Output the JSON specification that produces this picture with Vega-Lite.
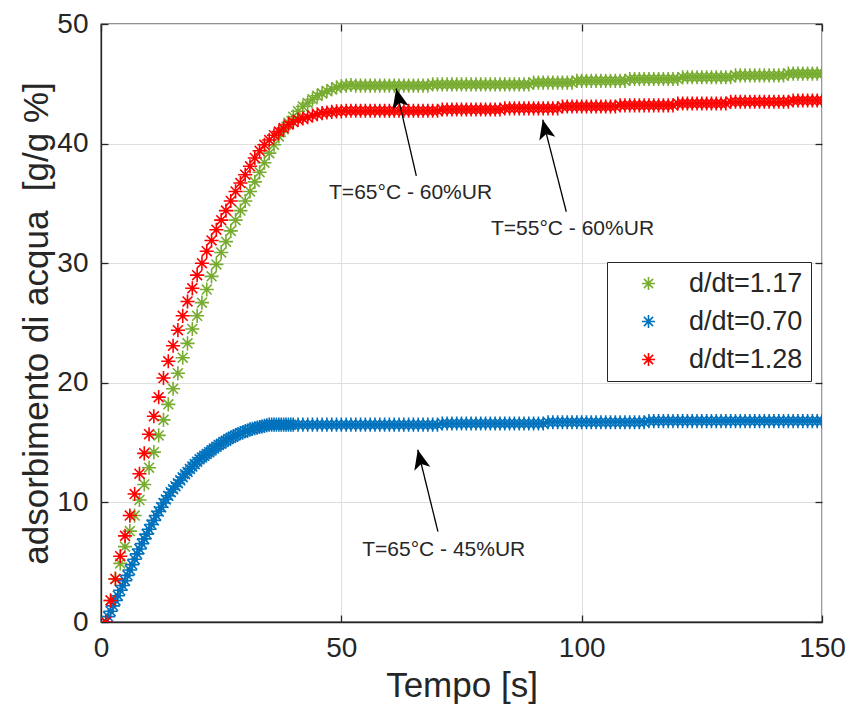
{
  "$schema": "https://vega.github.io/schema/vega-lite/v6.json",
  "autosize": "none",
  "padding": {"left": 101, "top": 24, "right": 28, "bottom": 100},
  "width": 721,
  "height": 598,
  "background": "white",
  "config": {
    "view": {"stroke": "#262626", "strokeWidth": 1.3},
    "font": "Liberation Sans",
    "axis": {
      "domainColor": "#262626", "domainWidth": 1.3,
      "tickColor": "#262626", "tickWidth": 1.3, "tickSize": -7,
      "labelFont": "Liberation Sans", "labelFontSize": 28, "labelColor": "#262626", "labelFlush": false,
      "titleFont": "Liberation Sans", "titleFontSize": 35, "titleFontWeight": "normal", "titleColor": "#262626",
      "gridColor": "#dedede", "gridWidth": 1
    }
  },
  "datasets": {
    "curves": [
      {"s":"d/dt=1.17","t":1,"v":0},{"s":"d/dt=1.17","t":2,"v":1.8},{"s":"d/dt=1.17","t":3,"v":3.6},{"s":"d/dt=1.17","t":4,"v":4.9},{"s":"d/dt=1.17","t":5,"v":6.3},{"s":"d/dt=1.17","t":6,"v":7.6},{"s":"d/dt=1.17","t":7,"v":8.9},{"s":"d/dt=1.17","t":8,"v":10.2},{"s":"d/dt=1.17","t":9,"v":11.5},{"s":"d/dt=1.17","t":10,"v":12.9},
      {"s":"d/dt=1.17","t":11,"v":14.2},{"s":"d/dt=1.17","t":12,"v":15.6},{"s":"d/dt=1.17","t":13,"v":16.9},{"s":"d/dt=1.17","t":14,"v":18.2},{"s":"d/dt=1.17","t":15,"v":19.5},{"s":"d/dt=1.17","t":16,"v":20.8},{"s":"d/dt=1.17","t":17,"v":22.1},{"s":"d/dt=1.17","t":18,"v":23.3},{"s":"d/dt=1.17","t":19,"v":24.5},{"s":"d/dt=1.17","t":20,"v":25.6},
      {"s":"d/dt=1.17","t":21,"v":26.7},{"s":"d/dt=1.17","t":22,"v":27.8},{"s":"d/dt=1.17","t":23,"v":28.9},{"s":"d/dt=1.17","t":24,"v":29.9},{"s":"d/dt=1.17","t":25,"v":30.9},{"s":"d/dt=1.17","t":26,"v":31.8},{"s":"d/dt=1.17","t":27,"v":32.7},{"s":"d/dt=1.17","t":28,"v":33.6},{"s":"d/dt=1.17","t":29,"v":34.4},{"s":"d/dt=1.17","t":30,"v":35.2},
      {"s":"d/dt=1.17","t":31,"v":36.0},{"s":"d/dt=1.17","t":32,"v":36.8},{"s":"d/dt=1.17","t":33,"v":37.6},{"s":"d/dt=1.17","t":34,"v":38.4},{"s":"d/dt=1.17","t":35,"v":39.2},{"s":"d/dt=1.17","t":36,"v":39.9},{"s":"d/dt=1.17","t":37,"v":40.6},{"s":"d/dt=1.17","t":38,"v":41.2},{"s":"d/dt=1.17","t":39,"v":41.75},{"s":"d/dt=1.17","t":40,"v":42.25},
      {"s":"d/dt=1.17","t":41,"v":42.7},{"s":"d/dt=1.17","t":42,"v":43.1},{"s":"d/dt=1.17","t":43,"v":43.4},{"s":"d/dt=1.17","t":44,"v":43.7},{"s":"d/dt=1.17","t":45,"v":44.0},{"s":"d/dt=1.17","t":46,"v":44.2},{"s":"d/dt=1.17","t":47,"v":44.4},{"s":"d/dt=1.17","t":48,"v":44.55},{"s":"d/dt=1.17","t":49,"v":44.7},{"s":"d/dt=1.17","t":50,"v":44.8},
      {"s":"d/dt=1.17","t":51,"v":44.85},{"s":"d/dt=1.17","t":52,"v":44.9},{"s":"d/dt=1.17","t":53,"v":44.85},{"s":"d/dt=1.17","t":54,"v":44.85},{"s":"d/dt=1.17","t":55,"v":44.85},{"s":"d/dt=1.17","t":56,"v":44.85},{"s":"d/dt=1.17","t":57,"v":44.85},{"s":"d/dt=1.17","t":58,"v":44.85},{"s":"d/dt=1.17","t":59,"v":44.85},{"s":"d/dt=1.17","t":60,"v":44.85},
      {"s":"d/dt=1.17","t":61,"v":44.85},{"s":"d/dt=1.17","t":62,"v":44.85},{"s":"d/dt=1.17","t":63,"v":44.85},{"s":"d/dt=1.17","t":64,"v":44.85},{"s":"d/dt=1.17","t":65,"v":44.85},{"s":"d/dt=1.17","t":66,"v":44.85},{"s":"d/dt=1.17","t":67,"v":44.85},{"s":"d/dt=1.17","t":68,"v":44.85},{"s":"d/dt=1.17","t":69,"v":44.95},{"s":"d/dt=1.17","t":70,"v":44.95},
      {"s":"d/dt=1.17","t":71,"v":44.95},{"s":"d/dt=1.17","t":72,"v":44.95},{"s":"d/dt=1.17","t":73,"v":44.95},{"s":"d/dt=1.17","t":74,"v":44.95},{"s":"d/dt=1.17","t":75,"v":44.95},{"s":"d/dt=1.17","t":76,"v":44.95},{"s":"d/dt=1.17","t":77,"v":44.95},{"s":"d/dt=1.17","t":78,"v":44.95},{"s":"d/dt=1.17","t":79,"v":44.95},{"s":"d/dt=1.17","t":80,"v":44.95},
      {"s":"d/dt=1.17","t":81,"v":44.95},{"s":"d/dt=1.17","t":82,"v":44.95},{"s":"d/dt=1.17","t":83,"v":44.95},{"s":"d/dt=1.17","t":84,"v":44.95},{"s":"d/dt=1.17","t":85,"v":44.95},{"s":"d/dt=1.17","t":86,"v":44.95},{"s":"d/dt=1.17","t":87,"v":44.95},{"s":"d/dt=1.17","t":88,"v":44.95},{"s":"d/dt=1.17","t":89,"v":44.95},{"s":"d/dt=1.17","t":90,"v":45.1},
      {"s":"d/dt=1.17","t":91,"v":45.1},{"s":"d/dt=1.17","t":92,"v":45.1},{"s":"d/dt=1.17","t":93,"v":45.1},{"s":"d/dt=1.17","t":94,"v":45.1},{"s":"d/dt=1.17","t":95,"v":45.1},{"s":"d/dt=1.17","t":96,"v":45.1},{"s":"d/dt=1.17","t":97,"v":45.1},{"s":"d/dt=1.17","t":98,"v":45.1},{"s":"d/dt=1.17","t":99,"v":45.25},{"s":"d/dt=1.17","t":100,"v":45.25},
      {"s":"d/dt=1.17","t":101,"v":45.25},{"s":"d/dt=1.17","t":102,"v":45.25},{"s":"d/dt=1.17","t":103,"v":45.25},{"s":"d/dt=1.17","t":104,"v":45.25},{"s":"d/dt=1.17","t":105,"v":45.25},{"s":"d/dt=1.17","t":106,"v":45.25},{"s":"d/dt=1.17","t":107,"v":45.25},{"s":"d/dt=1.17","t":108,"v":45.25},{"s":"d/dt=1.17","t":109,"v":45.25},{"s":"d/dt=1.17","t":110,"v":45.4},
      {"s":"d/dt=1.17","t":111,"v":45.4},{"s":"d/dt=1.17","t":112,"v":45.4},{"s":"d/dt=1.17","t":113,"v":45.4},{"s":"d/dt=1.17","t":114,"v":45.4},{"s":"d/dt=1.17","t":115,"v":45.4},{"s":"d/dt=1.17","t":116,"v":45.4},{"s":"d/dt=1.17","t":117,"v":45.4},{"s":"d/dt=1.17","t":118,"v":45.4},{"s":"d/dt=1.17","t":119,"v":45.4},{"s":"d/dt=1.17","t":120,"v":45.4},
      {"s":"d/dt=1.17","t":121,"v":45.55},{"s":"d/dt=1.17","t":122,"v":45.55},{"s":"d/dt=1.17","t":123,"v":45.55},{"s":"d/dt=1.17","t":124,"v":45.55},{"s":"d/dt=1.17","t":125,"v":45.55},{"s":"d/dt=1.17","t":126,"v":45.55},{"s":"d/dt=1.17","t":127,"v":45.55},{"s":"d/dt=1.17","t":128,"v":45.55},{"s":"d/dt=1.17","t":129,"v":45.55},{"s":"d/dt=1.17","t":130,"v":45.55},
      {"s":"d/dt=1.17","t":131,"v":45.55},{"s":"d/dt=1.17","t":132,"v":45.7},{"s":"d/dt=1.17","t":133,"v":45.7},{"s":"d/dt=1.17","t":134,"v":45.7},{"s":"d/dt=1.17","t":135,"v":45.7},{"s":"d/dt=1.17","t":136,"v":45.7},{"s":"d/dt=1.17","t":137,"v":45.7},{"s":"d/dt=1.17","t":138,"v":45.7},{"s":"d/dt=1.17","t":139,"v":45.7},{"s":"d/dt=1.17","t":140,"v":45.7},
      {"s":"d/dt=1.17","t":141,"v":45.7},{"s":"d/dt=1.17","t":142,"v":45.7},{"s":"d/dt=1.17","t":143,"v":45.85},{"s":"d/dt=1.17","t":144,"v":45.85},{"s":"d/dt=1.17","t":145,"v":45.85},{"s":"d/dt=1.17","t":146,"v":45.85},{"s":"d/dt=1.17","t":147,"v":45.85},{"s":"d/dt=1.17","t":148,"v":45.85},{"s":"d/dt=1.17","t":149,"v":45.85},{"s":"d/dt=1.17","t":150,"v":45.85},

      {"s":"d/dt=0.70","t":1,"v":0},{"s":"d/dt=0.70","t":1.5,"v":0.45},{"s":"d/dt=0.70","t":2,"v":0.9},{"s":"d/dt=0.70","t":2.5,"v":1.35},{"s":"d/dt=0.70","t":3,"v":1.8},{"s":"d/dt=0.70","t":3.5,"v":2.2},{"s":"d/dt=0.70","t":4,"v":2.65},{"s":"d/dt=0.70","t":4.5,"v":3.05},{"s":"d/dt=0.70","t":5,"v":3.45},{"s":"d/dt=0.70","t":5.5,"v":3.9},
      {"s":"d/dt=0.70","t":6,"v":4.35},{"s":"d/dt=0.70","t":6.5,"v":4.8},{"s":"d/dt=0.70","t":7,"v":5.25},{"s":"d/dt=0.70","t":7.5,"v":5.7},{"s":"d/dt=0.70","t":8,"v":6.1},{"s":"d/dt=0.70","t":8.5,"v":6.55},{"s":"d/dt=0.70","t":9,"v":6.95},{"s":"d/dt=0.70","t":9.5,"v":7.35},{"s":"d/dt=0.70","t":10,"v":7.75},{"s":"d/dt=0.70","t":10.5,"v":8.15},
      {"s":"d/dt=0.70","t":11,"v":8.5},{"s":"d/dt=0.70","t":11.5,"v":8.9},{"s":"d/dt=0.70","t":12,"v":9.25},{"s":"d/dt=0.70","t":12.5,"v":9.6},{"s":"d/dt=0.70","t":13,"v":9.95},{"s":"d/dt=0.70","t":13.5,"v":10.25},{"s":"d/dt=0.70","t":14,"v":10.55},{"s":"d/dt=0.70","t":14.5,"v":10.85},{"s":"d/dt=0.70","t":15,"v":11.1},{"s":"d/dt=0.70","t":15.5,"v":11.35},
      {"s":"d/dt=0.70","t":16,"v":11.6},{"s":"d/dt=0.70","t":16.5,"v":11.85},{"s":"d/dt=0.70","t":17,"v":12.1},{"s":"d/dt=0.70","t":17.5,"v":12.35},{"s":"d/dt=0.70","t":18,"v":12.55},{"s":"d/dt=0.70","t":18.5,"v":12.8},{"s":"d/dt=0.70","t":19,"v":13.0},{"s":"d/dt=0.70","t":19.5,"v":13.2},{"s":"d/dt=0.70","t":20,"v":13.4},{"s":"d/dt=0.70","t":20.5,"v":13.6},
      {"s":"d/dt=0.70","t":21,"v":13.75},{"s":"d/dt=0.70","t":21.5,"v":13.9},{"s":"d/dt=0.70","t":22,"v":14.05},{"s":"d/dt=0.70","t":22.5,"v":14.2},{"s":"d/dt=0.70","t":23,"v":14.35},{"s":"d/dt=0.70","t":23.5,"v":14.5},{"s":"d/dt=0.70","t":24,"v":14.65},{"s":"d/dt=0.70","t":24.5,"v":14.8},{"s":"d/dt=0.70","t":25,"v":14.9},{"s":"d/dt=0.70","t":25.5,"v":15.05},
      {"s":"d/dt=0.70","t":26,"v":15.15},{"s":"d/dt=0.70","t":26.5,"v":15.3},{"s":"d/dt=0.70","t":27,"v":15.4},{"s":"d/dt=0.70","t":27.5,"v":15.5},{"s":"d/dt=0.70","t":28,"v":15.6},{"s":"d/dt=0.70","t":28.5,"v":15.7},{"s":"d/dt=0.70","t":29,"v":15.8},{"s":"d/dt=0.70","t":29.5,"v":15.85},{"s":"d/dt=0.70","t":30,"v":15.95},{"s":"d/dt=0.70","t":30.5,"v":16.0},
      {"s":"d/dt=0.70","t":31,"v":16.1},{"s":"d/dt=0.70","t":31.5,"v":16.15},{"s":"d/dt=0.70","t":32,"v":16.2},{"s":"d/dt=0.70","t":32.5,"v":16.25},{"s":"d/dt=0.70","t":33,"v":16.3},{"s":"d/dt=0.70","t":33.5,"v":16.35},{"s":"d/dt=0.70","t":34,"v":16.4},{"s":"d/dt=0.70","t":34.5,"v":16.45},{"s":"d/dt=0.70","t":35,"v":16.5},{"s":"d/dt=0.70","t":35.5,"v":16.5},
      {"s":"d/dt=0.70","t":36,"v":16.5},{"s":"d/dt=0.70","t":36.5,"v":16.5},{"s":"d/dt=0.70","t":37,"v":16.5},{"s":"d/dt=0.70","t":37.5,"v":16.5},{"s":"d/dt=0.70","t":38,"v":16.5},{"s":"d/dt=0.70","t":38.5,"v":16.5},{"s":"d/dt=0.70","t":39,"v":16.5},{"s":"d/dt=0.70","t":39.5,"v":16.5},{"s":"d/dt=0.70","t":40,"v":16.5},
      {"s":"d/dt=0.70","t":41,"v":16.5},{"s":"d/dt=0.70","t":42,"v":16.5},{"s":"d/dt=0.70","t":43,"v":16.5},{"s":"d/dt=0.70","t":44,"v":16.5},{"s":"d/dt=0.70","t":45,"v":16.5},{"s":"d/dt=0.70","t":46,"v":16.5},{"s":"d/dt=0.70","t":47,"v":16.5},{"s":"d/dt=0.70","t":48,"v":16.5},{"s":"d/dt=0.70","t":49,"v":16.5},{"s":"d/dt=0.70","t":50,"v":16.5},
      {"s":"d/dt=0.70","t":51,"v":16.5},{"s":"d/dt=0.70","t":52,"v":16.5},{"s":"d/dt=0.70","t":53,"v":16.5},{"s":"d/dt=0.70","t":54,"v":16.5},{"s":"d/dt=0.70","t":55,"v":16.5},{"s":"d/dt=0.70","t":56,"v":16.5},{"s":"d/dt=0.70","t":57,"v":16.5},{"s":"d/dt=0.70","t":58,"v":16.5},{"s":"d/dt=0.70","t":59,"v":16.5},{"s":"d/dt=0.70","t":60,"v":16.5},
      {"s":"d/dt=0.70","t":61,"v":16.5},{"s":"d/dt=0.70","t":62,"v":16.5},{"s":"d/dt=0.70","t":63,"v":16.5},{"s":"d/dt=0.70","t":64,"v":16.5},{"s":"d/dt=0.70","t":65,"v":16.5},{"s":"d/dt=0.70","t":66,"v":16.5},{"s":"d/dt=0.70","t":67,"v":16.5},{"s":"d/dt=0.70","t":68,"v":16.5},{"s":"d/dt=0.70","t":69,"v":16.5},{"s":"d/dt=0.70","t":70,"v":16.5},
      {"s":"d/dt=0.70","t":71,"v":16.6},{"s":"d/dt=0.70","t":72,"v":16.6},{"s":"d/dt=0.70","t":73,"v":16.6},{"s":"d/dt=0.70","t":74,"v":16.6},{"s":"d/dt=0.70","t":75,"v":16.6},{"s":"d/dt=0.70","t":76,"v":16.6},{"s":"d/dt=0.70","t":77,"v":16.6},{"s":"d/dt=0.70","t":78,"v":16.6},{"s":"d/dt=0.70","t":79,"v":16.6},{"s":"d/dt=0.70","t":80,"v":16.6},
      {"s":"d/dt=0.70","t":81,"v":16.6},{"s":"d/dt=0.70","t":82,"v":16.6},{"s":"d/dt=0.70","t":83,"v":16.6},{"s":"d/dt=0.70","t":84,"v":16.6},{"s":"d/dt=0.70","t":85,"v":16.6},{"s":"d/dt=0.70","t":86,"v":16.6},{"s":"d/dt=0.70","t":87,"v":16.6},{"s":"d/dt=0.70","t":88,"v":16.6},{"s":"d/dt=0.70","t":89,"v":16.6},{"s":"d/dt=0.70","t":90,"v":16.6},
      {"s":"d/dt=0.70","t":91,"v":16.6},{"s":"d/dt=0.70","t":92,"v":16.6},{"s":"d/dt=0.70","t":93,"v":16.7},{"s":"d/dt=0.70","t":94,"v":16.7},{"s":"d/dt=0.70","t":95,"v":16.7},{"s":"d/dt=0.70","t":96,"v":16.7},{"s":"d/dt=0.70","t":97,"v":16.7},{"s":"d/dt=0.70","t":98,"v":16.7},{"s":"d/dt=0.70","t":99,"v":16.7},{"s":"d/dt=0.70","t":100,"v":16.7},
      {"s":"d/dt=0.70","t":101,"v":16.7},{"s":"d/dt=0.70","t":102,"v":16.7},{"s":"d/dt=0.70","t":103,"v":16.7},{"s":"d/dt=0.70","t":104,"v":16.7},{"s":"d/dt=0.70","t":105,"v":16.7},{"s":"d/dt=0.70","t":106,"v":16.7},{"s":"d/dt=0.70","t":107,"v":16.7},{"s":"d/dt=0.70","t":108,"v":16.7},{"s":"d/dt=0.70","t":109,"v":16.7},{"s":"d/dt=0.70","t":110,"v":16.7},
      {"s":"d/dt=0.70","t":111,"v":16.7},{"s":"d/dt=0.70","t":112,"v":16.7},{"s":"d/dt=0.70","t":113,"v":16.7},{"s":"d/dt=0.70","t":114,"v":16.8},{"s":"d/dt=0.70","t":115,"v":16.8},{"s":"d/dt=0.70","t":116,"v":16.8},{"s":"d/dt=0.70","t":117,"v":16.8},{"s":"d/dt=0.70","t":118,"v":16.8},{"s":"d/dt=0.70","t":119,"v":16.8},{"s":"d/dt=0.70","t":120,"v":16.8},
      {"s":"d/dt=0.70","t":121,"v":16.8},{"s":"d/dt=0.70","t":122,"v":16.8},{"s":"d/dt=0.70","t":123,"v":16.8},{"s":"d/dt=0.70","t":124,"v":16.8},{"s":"d/dt=0.70","t":125,"v":16.8},{"s":"d/dt=0.70","t":126,"v":16.8},{"s":"d/dt=0.70","t":127,"v":16.8},{"s":"d/dt=0.70","t":128,"v":16.8},{"s":"d/dt=0.70","t":129,"v":16.8},{"s":"d/dt=0.70","t":130,"v":16.8},
      {"s":"d/dt=0.70","t":131,"v":16.8},{"s":"d/dt=0.70","t":132,"v":16.8},{"s":"d/dt=0.70","t":133,"v":16.8},{"s":"d/dt=0.70","t":134,"v":16.8},{"s":"d/dt=0.70","t":135,"v":16.8},{"s":"d/dt=0.70","t":136,"v":16.8},{"s":"d/dt=0.70","t":137,"v":16.8},{"s":"d/dt=0.70","t":138,"v":16.8},{"s":"d/dt=0.70","t":139,"v":16.8},{"s":"d/dt=0.70","t":140,"v":16.8},
      {"s":"d/dt=0.70","t":141,"v":16.8},{"s":"d/dt=0.70","t":142,"v":16.8},{"s":"d/dt=0.70","t":143,"v":16.8},{"s":"d/dt=0.70","t":144,"v":16.8},{"s":"d/dt=0.70","t":145,"v":16.8},{"s":"d/dt=0.70","t":146,"v":16.8},{"s":"d/dt=0.70","t":147,"v":16.8},{"s":"d/dt=0.70","t":148,"v":16.8},{"s":"d/dt=0.70","t":149,"v":16.8},{"s":"d/dt=0.70","t":150,"v":16.8},

      {"s":"d/dt=1.28","t":1,"v":0},{"s":"d/dt=1.28","t":2,"v":1.8},{"s":"d/dt=1.28","t":3,"v":3.6},{"s":"d/dt=1.28","t":4,"v":5.5},{"s":"d/dt=1.28","t":5,"v":7.2},{"s":"d/dt=1.28","t":6,"v":8.9},{"s":"d/dt=1.28","t":7,"v":10.7},{"s":"d/dt=1.28","t":8,"v":12.4},{"s":"d/dt=1.28","t":9,"v":14.1},{"s":"d/dt=1.28","t":10,"v":15.7},
      {"s":"d/dt=1.28","t":11,"v":17.2},{"s":"d/dt=1.28","t":12,"v":18.8},{"s":"d/dt=1.28","t":13,"v":20.4},{"s":"d/dt=1.28","t":14,"v":21.8},{"s":"d/dt=1.28","t":15,"v":23.1},{"s":"d/dt=1.28","t":16,"v":24.4},{"s":"d/dt=1.28","t":17,"v":25.6},{"s":"d/dt=1.28","t":18,"v":26.8},{"s":"d/dt=1.28","t":19,"v":27.9},{"s":"d/dt=1.28","t":20,"v":29.0},
      {"s":"d/dt=1.28","t":21,"v":30.0},{"s":"d/dt=1.28","t":22,"v":31.0},{"s":"d/dt=1.28","t":23,"v":31.9},{"s":"d/dt=1.28","t":24,"v":32.8},{"s":"d/dt=1.28","t":25,"v":33.6},{"s":"d/dt=1.28","t":26,"v":34.4},{"s":"d/dt=1.28","t":27,"v":35.2},{"s":"d/dt=1.28","t":28,"v":36.0},{"s":"d/dt=1.28","t":29,"v":36.7},{"s":"d/dt=1.28","t":30,"v":37.4},
      {"s":"d/dt=1.28","t":31,"v":38.1},{"s":"d/dt=1.28","t":32,"v":38.8},{"s":"d/dt=1.28","t":33,"v":39.4},{"s":"d/dt=1.28","t":34,"v":39.9},{"s":"d/dt=1.28","t":35,"v":40.3},{"s":"d/dt=1.28","t":36,"v":40.7},{"s":"d/dt=1.28","t":37,"v":41.0},{"s":"d/dt=1.28","t":38,"v":41.3},{"s":"d/dt=1.28","t":39,"v":41.6},{"s":"d/dt=1.28","t":40,"v":41.8},
      {"s":"d/dt=1.28","t":41,"v":42.0},{"s":"d/dt=1.28","t":42,"v":42.1},{"s":"d/dt=1.28","t":43,"v":42.2},{"s":"d/dt=1.28","t":44,"v":42.35},{"s":"d/dt=1.28","t":45,"v":42.45},{"s":"d/dt=1.28","t":46,"v":42.55},{"s":"d/dt=1.28","t":47,"v":42.6},{"s":"d/dt=1.28","t":48,"v":42.65},{"s":"d/dt=1.28","t":49,"v":42.7},{"s":"d/dt=1.28","t":50,"v":42.7},
      {"s":"d/dt=1.28","t":51,"v":42.75},{"s":"d/dt=1.28","t":52,"v":42.75},{"s":"d/dt=1.28","t":53,"v":42.75},{"s":"d/dt=1.28","t":54,"v":42.75},{"s":"d/dt=1.28","t":55,"v":42.75},{"s":"d/dt=1.28","t":56,"v":42.75},{"s":"d/dt=1.28","t":57,"v":42.75},{"s":"d/dt=1.28","t":58,"v":42.75},{"s":"d/dt=1.28","t":59,"v":42.75},{"s":"d/dt=1.28","t":60,"v":42.75},
      {"s":"d/dt=1.28","t":61,"v":42.75},{"s":"d/dt=1.28","t":62,"v":42.75},{"s":"d/dt=1.28","t":63,"v":42.75},{"s":"d/dt=1.28","t":64,"v":42.75},{"s":"d/dt=1.28","t":65,"v":42.75},{"s":"d/dt=1.28","t":66,"v":42.75},{"s":"d/dt=1.28","t":67,"v":42.75},{"s":"d/dt=1.28","t":68,"v":42.75},{"s":"d/dt=1.28","t":69,"v":42.75},{"s":"d/dt=1.28","t":70,"v":42.75},
      {"s":"d/dt=1.28","t":71,"v":42.85},{"s":"d/dt=1.28","t":72,"v":42.85},{"s":"d/dt=1.28","t":73,"v":42.85},{"s":"d/dt=1.28","t":74,"v":42.85},{"s":"d/dt=1.28","t":75,"v":42.85},{"s":"d/dt=1.28","t":76,"v":42.85},{"s":"d/dt=1.28","t":77,"v":42.85},{"s":"d/dt=1.28","t":78,"v":42.85},{"s":"d/dt=1.28","t":79,"v":42.85},{"s":"d/dt=1.28","t":80,"v":42.85},
      {"s":"d/dt=1.28","t":81,"v":42.85},{"s":"d/dt=1.28","t":82,"v":42.85},{"s":"d/dt=1.28","t":83,"v":42.85},{"s":"d/dt=1.28","t":84,"v":42.95},{"s":"d/dt=1.28","t":85,"v":42.95},{"s":"d/dt=1.28","t":86,"v":42.95},{"s":"d/dt=1.28","t":87,"v":42.95},{"s":"d/dt=1.28","t":88,"v":42.95},{"s":"d/dt=1.28","t":89,"v":42.95},{"s":"d/dt=1.28","t":90,"v":42.95},
      {"s":"d/dt=1.28","t":91,"v":42.95},{"s":"d/dt=1.28","t":92,"v":42.95},{"s":"d/dt=1.28","t":93,"v":42.95},{"s":"d/dt=1.28","t":94,"v":42.95},{"s":"d/dt=1.28","t":95,"v":42.95},{"s":"d/dt=1.28","t":96,"v":43.1},{"s":"d/dt=1.28","t":97,"v":43.1},{"s":"d/dt=1.28","t":98,"v":43.1},{"s":"d/dt=1.28","t":99,"v":43.1},{"s":"d/dt=1.28","t":100,"v":43.1},
      {"s":"d/dt=1.28","t":101,"v":43.1},{"s":"d/dt=1.28","t":102,"v":43.1},{"s":"d/dt=1.28","t":103,"v":43.1},{"s":"d/dt=1.28","t":104,"v":43.1},{"s":"d/dt=1.28","t":105,"v":43.1},{"s":"d/dt=1.28","t":106,"v":43.1},{"s":"d/dt=1.28","t":107,"v":43.1},{"s":"d/dt=1.28","t":108,"v":43.2},{"s":"d/dt=1.28","t":109,"v":43.2},{"s":"d/dt=1.28","t":110,"v":43.2},
      {"s":"d/dt=1.28","t":111,"v":43.2},{"s":"d/dt=1.28","t":112,"v":43.2},{"s":"d/dt=1.28","t":113,"v":43.2},{"s":"d/dt=1.28","t":114,"v":43.2},{"s":"d/dt=1.28","t":115,"v":43.2},{"s":"d/dt=1.28","t":116,"v":43.2},{"s":"d/dt=1.28","t":117,"v":43.2},{"s":"d/dt=1.28","t":118,"v":43.2},{"s":"d/dt=1.28","t":119,"v":43.2},{"s":"d/dt=1.28","t":120,"v":43.35},
      {"s":"d/dt=1.28","t":121,"v":43.35},{"s":"d/dt=1.28","t":122,"v":43.35},{"s":"d/dt=1.28","t":123,"v":43.35},{"s":"d/dt=1.28","t":124,"v":43.35},{"s":"d/dt=1.28","t":125,"v":43.35},{"s":"d/dt=1.28","t":126,"v":43.35},{"s":"d/dt=1.28","t":127,"v":43.35},{"s":"d/dt=1.28","t":128,"v":43.35},{"s":"d/dt=1.28","t":129,"v":43.35},{"s":"d/dt=1.28","t":130,"v":43.35},
      {"s":"d/dt=1.28","t":131,"v":43.5},{"s":"d/dt=1.28","t":132,"v":43.5},{"s":"d/dt=1.28","t":133,"v":43.5},{"s":"d/dt=1.28","t":134,"v":43.5},{"s":"d/dt=1.28","t":135,"v":43.5},{"s":"d/dt=1.28","t":136,"v":43.5},{"s":"d/dt=1.28","t":137,"v":43.5},{"s":"d/dt=1.28","t":138,"v":43.5},{"s":"d/dt=1.28","t":139,"v":43.5},{"s":"d/dt=1.28","t":140,"v":43.5},
      {"s":"d/dt=1.28","t":141,"v":43.5},{"s":"d/dt=1.28","t":142,"v":43.5},{"s":"d/dt=1.28","t":143,"v":43.5},{"s":"d/dt=1.28","t":144,"v":43.6},{"s":"d/dt=1.28","t":145,"v":43.6},{"s":"d/dt=1.28","t":146,"v":43.6},{"s":"d/dt=1.28","t":147,"v":43.6},{"s":"d/dt=1.28","t":148,"v":43.6},{"s":"d/dt=1.28","t":149,"v":43.6},{"s":"d/dt=1.28","t":150,"v":43.6}
    ],
    "arrows": [
      {"tipT": 61.4, "tipV": 44.6, "tailT": 65.6, "tailV": 37.3},
      {"tipT": 91.9, "tipV": 42.0, "tailT": 96.8, "tailV": 34.3},
      {"tipT": 65.9, "tipV": 14.4, "tailT": 70.1, "tailV": 7.55}
    ],
    "notes": [
      {"t": 64.4, "v": 35.9, "label": "T=65°C - 60%UR"},
      {"t": 98.1, "v": 32.9, "label": "T=55°C - 60%UR"},
      {"t": 71.3, "v": 6.0, "label": "T=65°C - 45%UR"}
    ]
  },
  "resolve": {"axis": {"x": "independent", "y": "independent"}},
  "layer": [
    {
      "data": {"name": "curves"},
      "mark": {"type": "point", "shape": "M-1,0L1,0M0,-1L0,1M-0.7,-0.7L0.7,0.7M-0.7,0.7L0.7,-0.7", "filled": false, "size": 200, "strokeWidth": 1.6, "opacity": 1, "clip": true},
      "encoding": {
        "x": {"field": "t", "type": "quantitative", "scale": {"domain": [0, 150], "nice": false, "zero": false},
              "axis": {"values": [0, 50, 100, 150], "title": "Tempo [s]", "labelPadding": 19, "titlePadding": 6, "grid": true, "labelFlush": false}},
        "y": {"field": "v", "type": "quantitative", "scale": {"domain": [0, 50], "nice": false},
              "axis": {"values": [0, 10, 20, 30, 40, 50], "title": "adsorbimento di acqua\u00a0 [g/g %]", "labelPadding": 20, "titlePadding": 2, "grid": true, "labelFlush": false}},
        "color": {"field": "s", "type": "nominal",
                  "scale": {"domain": ["d/dt=1.17", "d/dt=0.70", "d/dt=1.28"], "range": ["#77AC30", "#0072BD", "#FF0000"]},
                  "legend": {"orient": "none", "legendX": 506, "legendY": 238, "title": null, "padding": 8,
                             "strokeColor": "#262626", "fillColor": "white", "cornerRadius": 0,
                             "labelFont": "Liberation Sans", "labelFontSize": 27, "labelColor": "#262626",
                             "symbolType": "M-1,0L1,0M0,-1L0,1M-0.7,-0.7L0.7,0.7M-0.7,0.7L0.7,-0.7",
                             "symbolSize": 170, "symbolStrokeWidth": 1.6, "symbolOffset": 20, "labelOffset": 27, "rowPadding": 10}}
      }
    },
    {
      "data": {"name": "arrows"},
      "mark": {"type": "rule", "color": "#000000", "strokeWidth": 1.3},
      "encoding": {
        "x": {"field": "tailT", "type": "quantitative",
              "axis": {"orient": "top", "values": [0, 50, 100, 150], "labels": false, "title": null, "grid": false, "domain": false}},
        "y": {"field": "tailV", "type": "quantitative",
              "axis": {"orient": "right", "values": [0, 10, 20, 30, 40, 50], "labels": false, "title": null, "grid": false, "domain": false}},
        "x2": {"field": "tipT"},
        "y2": {"field": "tipV"}
      }
    },
    {
      "data": {"name": "arrows"},
      "mark": {"type": "point", "shape": "M0,0L-0.42,1L0,0.75L0.42,1Z", "filled": true, "size": 1520, "angle": -13.5, "color": "#000000", "opacity": 1, "strokeWidth": 0},
      "encoding": {
        "x": {"field": "tipT", "type": "quantitative", "axis": null},
        "y": {"field": "tipV", "type": "quantitative", "axis": null}
      }
    },
    {
      "data": {"name": "notes"},
      "mark": {"type": "text", "font": "Liberation Sans", "fontSize": 21, "color": "#262626", "align": "center", "baseline": "middle"},
      "encoding": {
        "x": {"field": "t", "type": "quantitative", "axis": null},
        "y": {"field": "v", "type": "quantitative", "axis": null},
        "text": {"field": "label"}
      }
    }
  ]
}
